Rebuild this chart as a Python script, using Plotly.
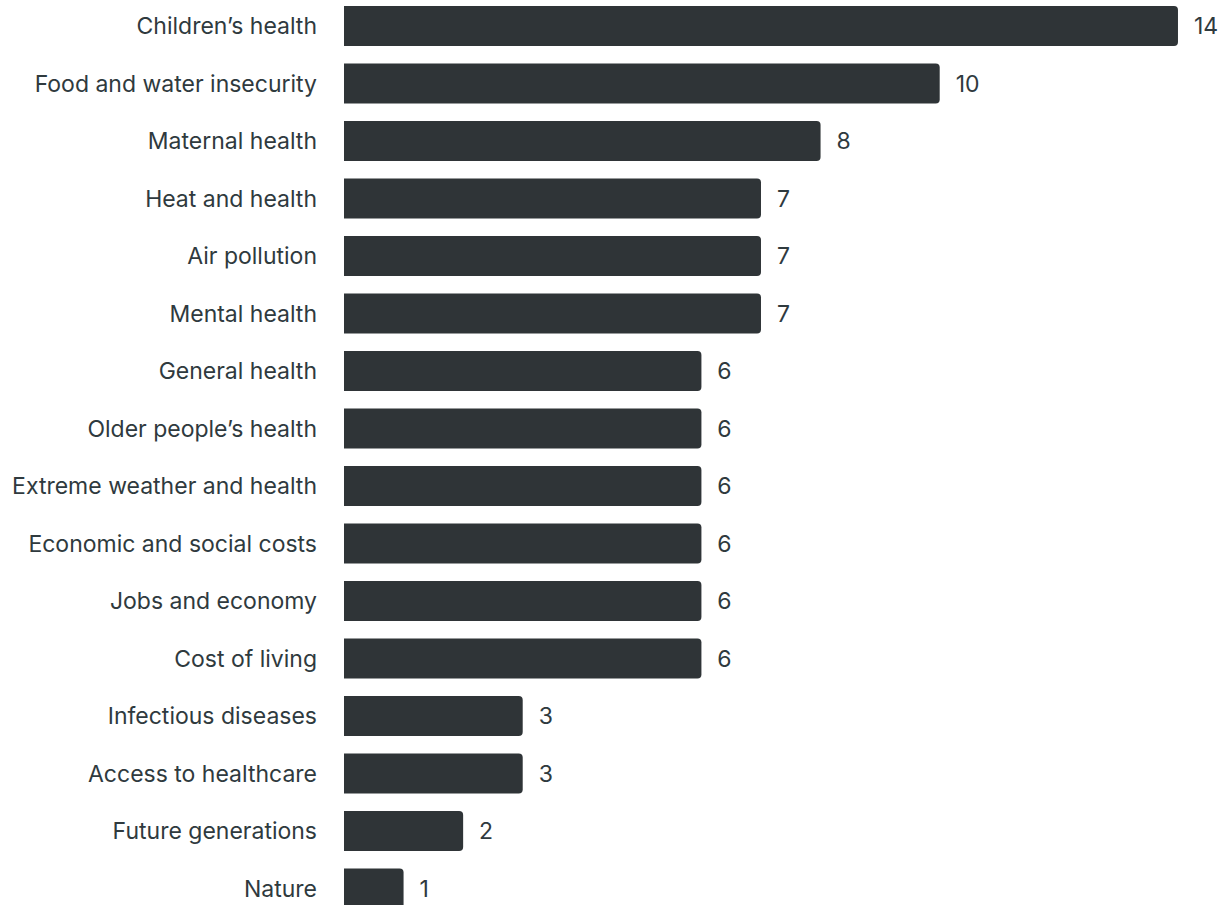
import plotly.graph_objects as go

categories = [
    "Children’s health",
    "Food and water insecurity",
    "Maternal health",
    "Heat and health",
    "Air pollution",
    "Mental health",
    "General health",
    "Older people’s health",
    "Extreme weather and health",
    "Economic and social costs",
    "Jobs and economy",
    "Cost of living",
    "Infectious diseases",
    "Access to healthcare",
    "Future generations",
    "Nature",
]
counts = [14, 10, 8, 7, 7, 7, 6, 6, 6, 6, 6, 6, 3, 3, 2, 1]

BAR_COLOR = "#2f3437"
TEXT_COLOR = "#2f3a3e"
FONT = "Inter"
FONT_SIZE = 23

W, H = 1220, 905
LEFT = 344
ROW_PX = 57.5
X_UNIT_PX = 59.57
FIRST_ROW_CENTER = 26

y_top = -FIRST_ROW_CENTER / ROW_PX
y_bottom = y_top + H / ROW_PX
x_max = (W - LEFT) / X_UNIT_PX

fig = go.Figure(
    go.Bar(
        x=counts,
        y=list(range(len(categories))),
        orientation="h",
        width=40 / ROW_PX,
        marker=dict(color=BAR_COLOR, line=dict(width=0), cornerradius=4),
        text=counts,
        texttemplate="  %{x}",
        textposition="outside",
        textfont=dict(family=FONT, size=FONT_SIZE, color=TEXT_COLOR),
        cliponaxis=False,
        hoverinfo="skip",
    )
)

fig.update_layout(
    width=W,
    height=H,
    margin=dict(l=LEFT, r=0, t=0, b=0),
    paper_bgcolor="white",
    plot_bgcolor="white",
    showlegend=False,
    font=dict(family=FONT, size=FONT_SIZE, color=TEXT_COLOR),
    xaxis=dict(
        range=[0, x_max],
        visible=False,
        showgrid=False,
        zeroline=False,
        fixedrange=True,
    ),
    yaxis=dict(
        range=[y_bottom, y_top],
        tickmode="array",
        tickvals=list(range(len(categories))),
        ticktext=categories,
        showgrid=False,
        zeroline=False,
        showline=False,
        ticks="",
        ticklabelstandoff=26,
        tickfont=dict(family=FONT, size=FONT_SIZE, color=TEXT_COLOR),
        fixedrange=True,
    ),
)

fig.write_html("out.html")
